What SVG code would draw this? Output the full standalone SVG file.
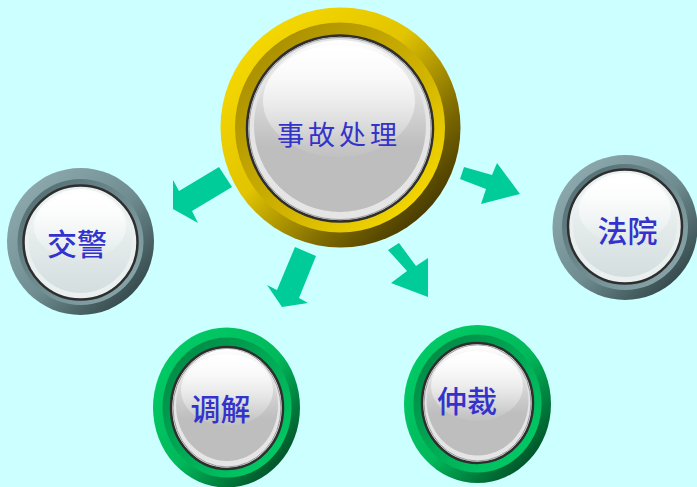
<svg xmlns="http://www.w3.org/2000/svg" width="697" height="487" viewBox="0 0 697 487">
<style>
.t{font-family:"Noto Sans CJK SC","Noto Sans CJK TC",sans-serif;fill:#3333CC;dominant-baseline:central;}
.b{font-weight:500;}
.arrow{fill:#00CC99;}
.rim{stroke:#2E2E2E;stroke-width:2.5;}
.rim2{fill:none;stroke:#9A9A9A;stroke-width:1;}
</style>
<defs>
<linearGradient id="yOuter" x1="0.1" y1="0.1" x2="0.95" y2="0.95">
<stop offset="0" stop-color="#F7DA00"/><stop offset="0.4" stop-color="#E2C400"/><stop offset="0.7" stop-color="#7E6A00"/><stop offset="1" stop-color="#2A2100"/>
</linearGradient>
<linearGradient id="yInner" x1="0.1" y1="0.1" x2="0.9" y2="0.9">
<stop offset="0" stop-color="#A88E00"/><stop offset="0.6" stop-color="#D2B400"/><stop offset="1" stop-color="#F7DA00"/>
</linearGradient>
<linearGradient id="gOuter" x1="0.1" y1="0.1" x2="0.95" y2="0.95">
<stop offset="0" stop-color="#8EAAAE"/><stop offset="0.5" stop-color="#6F8D91"/><stop offset="1" stop-color="#27393B"/>
</linearGradient>
<linearGradient id="gInner" x1="0.1" y1="0.1" x2="0.9" y2="0.9">
<stop offset="0" stop-color="#557074"/><stop offset="1" stop-color="#88A6AA"/>
</linearGradient>
<linearGradient id="nOuter" x1="0.1" y1="0.1" x2="0.95" y2="0.95">
<stop offset="0" stop-color="#00CC66"/><stop offset="0.5" stop-color="#00B85A"/><stop offset="1" stop-color="#003A1C"/>
</linearGradient>
<linearGradient id="nInner" x1="0.1" y1="0.1" x2="0.9" y2="0.9">
<stop offset="0" stop-color="#008A45"/><stop offset="1" stop-color="#00CC66"/>
</linearGradient>
<linearGradient id="faceGray" x1="0" y1="0" x2="0" y2="1">
<stop offset="0" stop-color="#FFFFFF"/><stop offset="0.45" stop-color="#CFCFCF"/><stop offset="0.62" stop-color="#BEBEBE"/><stop offset="1" stop-color="#BEBEBE"/>
</linearGradient>
<linearGradient id="faceBlue" x1="0" y1="0" x2="0" y2="1">
<stop offset="0" stop-color="#FFFFFF"/><stop offset="0.5" stop-color="#E4EBEB"/><stop offset="1" stop-color="#D4DEDF"/>
</linearGradient>
<linearGradient id="hl" x1="0" y1="0" x2="0" y2="1">
<stop offset="0" stop-color="#FFFFFF" stop-opacity="1"/><stop offset="1" stop-color="#FFFFFF" stop-opacity="0.05"/>
</linearGradient>
</defs>
<rect width="697" height="487" fill="#CCFFFF"/>

<g id="connectors">
<polygon class="arrow" points="219,167 232,187 192,211 198,223 173,209 173,180 179,191"/>
<polygon class="arrow" points="464,167 492,175 497,163 520,194 481,204 486,189 460,179"/>
<polygon class="arrow" points="295,247 316,256 299,298 308,303 282,307 267,285 277,290"/>
<polygon class="arrow" points="399,243 416,266 428,258 428,297 391,283 407,271 388,250"/>
</g>

<g id="center">
<circle cx="340.5" cy="127.5" r="120" fill="url(#yOuter)"/>
<circle cx="340" cy="127.5" r="105" fill="url(#yInner)"/>
<circle class="rim" cx="340" cy="128.5" r="93" fill="#E5E5E5"/>
<circle class="rim2" cx="340" cy="128.5" r="91"/>
<circle cx="340" cy="126" r="86" fill="url(#faceGray)"/>
<ellipse cx="339" cy="101" rx="76" ry="56" fill="url(#hl)"/>
<text class="t" x="277" y="133.5" font-size="27" letter-spacing="4">事故处理</text>
</g>

<g id="jiaojing">
<circle cx="80.5" cy="241.5" r="73.5" fill="url(#gOuter)"/>
<circle cx="80.5" cy="242" r="63" fill="url(#gInner)"/>
<circle class="rim" cx="80.5" cy="242.5" r="57" fill="#EAF0F0"/>
<circle cx="80.5" cy="241" r="52" fill="url(#faceBlue)"/>
<ellipse cx="80" cy="226" rx="46" ry="34" fill="url(#hl)"/>
<text class="t b" x="77" y="241.5" font-size="30" text-anchor="middle">交警</text>
</g>

<g id="fayuan">
<circle cx="625" cy="227.5" r="72.5" fill="url(#gOuter)"/>
<circle cx="625" cy="227" r="63" fill="url(#gInner)"/>
<circle class="rim" cx="625" cy="226.5" r="57" fill="#EAF0F0"/>
<circle cx="625" cy="225" r="52" fill="url(#faceBlue)"/>
<ellipse cx="625" cy="210" rx="46" ry="34" fill="url(#hl)"/>
<text class="t b" x="627.5" y="229" font-size="30" text-anchor="middle">法院</text>
</g>

<g id="tiaojie">
<ellipse cx="226.5" cy="407.5" rx="73.5" ry="80" fill="url(#nOuter)"/>
<ellipse cx="227" cy="407.5" rx="64.5" ry="70" fill="url(#nInner)"/>
<ellipse class="rim" cx="227" cy="408" rx="56" ry="61" fill="#E5E5E5"/>
<ellipse class="rim2" cx="227" cy="408" rx="54" ry="59"/>
<ellipse cx="227" cy="405" rx="51" ry="56" fill="url(#faceGray)"/>
<ellipse cx="227" cy="390" rx="46" ry="36" fill="url(#hl)"/>
<text class="t b" x="220.5" y="406.5" font-size="30" text-anchor="middle">调解</text>
</g>

<g id="zhongcai">
<ellipse cx="477.5" cy="404" rx="73.5" ry="79" fill="url(#nOuter)"/>
<ellipse cx="477.5" cy="403.5" rx="64" ry="69" fill="url(#nInner)"/>
<ellipse class="rim" cx="477.5" cy="403" rx="55.5" ry="60" fill="#E5E5E5"/>
<ellipse class="rim2" cx="477.5" cy="403" rx="53.5" ry="58"/>
<ellipse cx="477.5" cy="400.5" rx="51" ry="55" fill="url(#faceGray)"/>
<ellipse cx="477" cy="386" rx="46" ry="35" fill="url(#hl)"/>
<text class="t b" x="467" y="399" font-size="30" text-anchor="middle">仲裁</text>
</g>
</svg>
